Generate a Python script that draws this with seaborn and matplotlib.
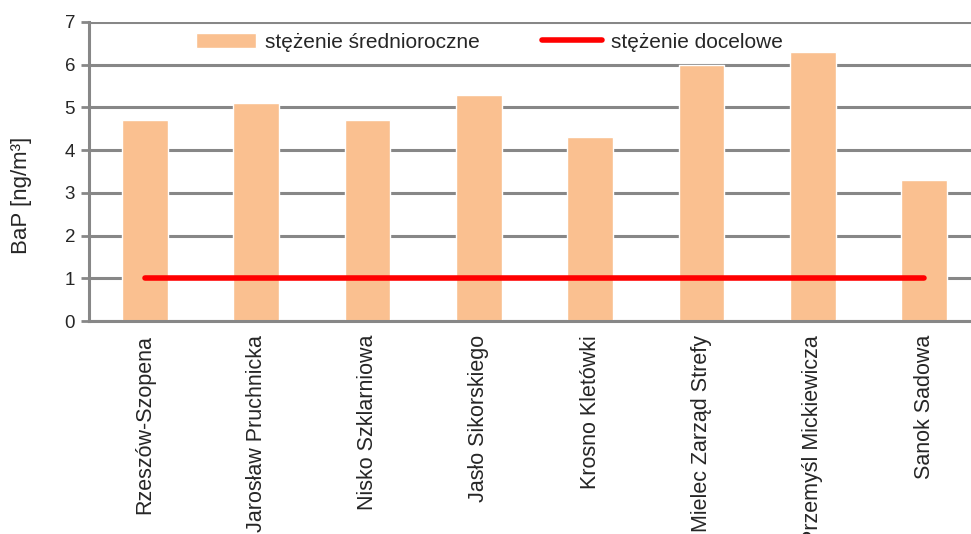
import numpy as np
import pandas as pd
import seaborn as sns
import matplotlib.pyplot as plt

# data
stations = ['Rzeszów-Szopena', 'Jarosław Pruchnicka', 'Nisko Szklarniowa', 'Jasło Sikorskiego',
            'Krosno Kletówki', 'Mielec Zarząd Strefy', 'Przemyśl Mickiewicza', 'Sanok Sadowa']
annual_mean = [4.7, 5.1, 4.7, 5.3, 4.3, 6.0, 6.3, 3.3]
target_value = [1, 1, 1, 1, 1, 1, 1, 1]

df = pd.DataFrame({'stacja': stations, 'srednia': annual_mean, 'docelowe': target_value})

sns.set_style("white")
plt.rcParams['font.family'] = ['Liberation Sans', 'DejaVu Sans']

grey = '#878787'

fig = plt.figure(figsize=(9.71, 5.34), dpi=100)
ax = fig.add_axes([89 / 971, 1 - 321 / 534, 891 / 971, 299 / 534])

sns.barplot(data=df, x='stacja', y='srednia', color='#FAC090', width=0.41,
            saturation=1, ax=ax, label='stężenie średnioroczne', zorder=2)
sns.pointplot(data=df, x='stacja', y='docelowe', color='#FF0000', marker='',
              linestyle='-', linewidth=4, ax=ax, label='stężenie docelowe', zorder=3)

#Axes styling
ax.set_ylim(0, 7)
ax.set_xlim(-0.5, 7.5)
ax.set_yticks(range(0, 8))
ax.yaxis.grid(True, color=grey, linewidth=2.2, zorder=0)
ax.set_axisbelow(True)
for s in ['top', 'right']:
    ax.spines[s].set_visible(False)
for s in ['left', 'bottom']:
    ax.spines[s].set_color(grey)
    ax.spines[s].set_linewidth(2.2)

ax.set_xticks(np.arange(-0.5, 8, 1), minor=True)
ax.tick_params(axis='x', which='major', length=0, pad=10, labelsize=15.5)
ax.tick_params(axis='x', which='minor', length=6, width=2, color=grey)
ax.tick_params(axis='y', length=6, width=2, color=grey, labelsize=13.5, pad=4, left=True)
ax.set_xticks(range(len(stations)))
ax.set_xticklabels(stations, rotation=90, va='top')

ax.set_xlabel('')
ax.set_ylabel('BaP [ng/m³]', fontsize=16)
ax.yaxis.set_label_coords(-0.064, 0.421)

#Legend: bars first, then the target line
handles, labels = ax.get_legend_handles_labels()
order = [labels.index('stężenie średnioroczne'), labels.index('stężenie docelowe')]
ax.legend([handles[i] for i in order], [labels[i] for i in order],
          loc='center left', bbox_to_anchor=((196 - 89) / 891, (321 - 42) / 299),
          ncol=2, frameon=False, fontsize=15, handlelength=2.9, handletextpad=0.4,
          columnspacing=3.0, borderpad=0, borderaxespad=0)

fig.savefig('out.png', dpi=100)
